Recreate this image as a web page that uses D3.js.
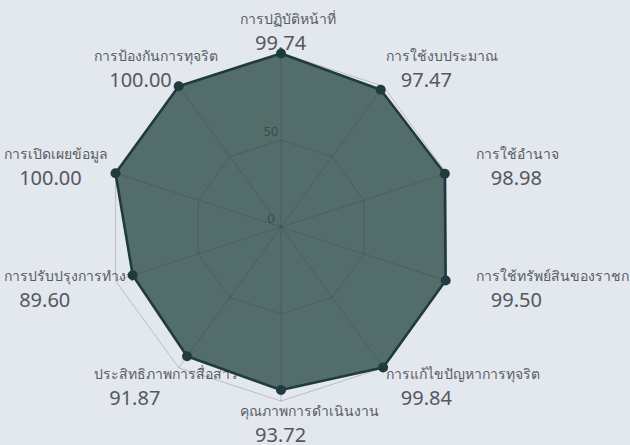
<!DOCTYPE html>
<meta charset="utf-8">
<style>
body { margin: 0; background: #e3e7ee; }
text { font-family: "Noto Sans", "Open Sans", sans-serif; }
</style>
<body>
<script src="https://cdn.jsdelivr.net/npm/d3@7"></script>
<script>

// axis names, clockwise from the top
var categories = [
  "การปฏิบัติหน้าที่",
  "การใช้งบประมาณ",
  "การใช้อำนาจ",
  "การใช้ทรัพย์สินของราชการ",
  "การแก้ไขปัญหาการทุจริต",
  "คุณภาพการดำเนินงาน",
  "ประสิทธิภาพการสื่อสาร",
  "การปรับปรุงการทำงาน",
  "การเปิดเผยข้อมูล",
  "การป้องกันการทุจริต"
];
var scores = [99.74, 97.47, 98.98, 99.50, 99.84, 93.72, 91.87, 89.60, 100.00, 100.00];
var tickValues = [0, 50, 100];
var tickLabels = ["0", "50"];

var width = 630, height = 445;
var cx = 281, cy = 227;

var r = d3.scaleLinear().domain([0, 100]).range([0, 174]);
var angle = d3.scaleLinear().domain([0, categories.length]).range([0, 2 * Math.PI]);

function px(i, v) { return cx + r(v) * Math.sin(angle(i)); }
function py(i, v) { return cy - r(v) * Math.cos(angle(i)); }

var svg = d3.select("body").append("svg")
    .attr("width", width)
    .attr("height", height);

// point labels (drawn under the shape)
var lab = svg.append("g").selectAll("g")
    .data(categories)
  .enter().append("g")
    .attr("transform", function(d, i) {
      var x = cx + (r(100) + 74) * Math.sin(angle(i)) - 41;
      var y = cy - (r(100) + 22) * Math.cos(angle(i));
      return "translate(" + x + "," + y + ")";
    });

lab.append("text")
    .attr("y", -7)
    .attr("font-size", "14px")
    .attr("fill", "#5a5d63")
    .text(function(d) { return d; });

lab.append("text")
    .attr("x", 15)
    .attr("y", 19)
    .attr("font-size", "20px")
    .attr("fill", "#55585e")
    .text(function(d, i) { return scores[i].toFixed(2); });

// data shape
var line = d3.lineRadial()
    .angle(function(d, i) { return angle(i); })
    .radius(function(d) { return r(d); })
    .curve(d3.curveLinearClosed);

svg.append("path")
    .datum(scores)
    .attr("transform", "translate(" + cx + "," + cy + ")")
    .attr("d", line)
    .attr("fill", "#536d6b")
    .attr("stroke", "#1f3b40")
    .attr("stroke-width", 2.6)
    .attr("stroke-linejoin", "round");

// grid over the fill
var grid = svg.append("g")
    .attr("transform", "translate(" + cx + "," + cy + ")")
    .attr("fill", "none")
    .attr("stroke", "rgba(40,50,60,0.22)")
    .attr("stroke-width", 1);

tickValues.slice(1).forEach(function(t) {
  grid.append("path")
      .datum(categories.map(function() { return t; }))
      .attr("d", line);
});

categories.forEach(function(c, i) {
  grid.append("line")
      .attr("x2", r(100) * Math.sin(angle(i)))
      .attr("y2", -r(100) * Math.cos(angle(i)));
});

svg.append("g").selectAll("text")
    .data(tickLabels)
  .enter().append("text")
    .attr("x", cx - 10)
    .attr("y", function(d, i) { return cy - r(tickValues[i]) - 4; })
    .attr("text-anchor", "middle")
    .attr("font-size", "13px")
    .attr("fill", "#3f4a4c")
    .text(function(d) { return d; });

// points
svg.append("g").selectAll("circle")
    .data(scores)
  .enter().append("circle")
    .attr("cx", function(d, i) { return px(i, d); })
    .attr("cy", function(d, i) { return py(i, d); })
    .attr("r", 5)
    .attr("fill", "#1f3b40");

</script>
</body>
